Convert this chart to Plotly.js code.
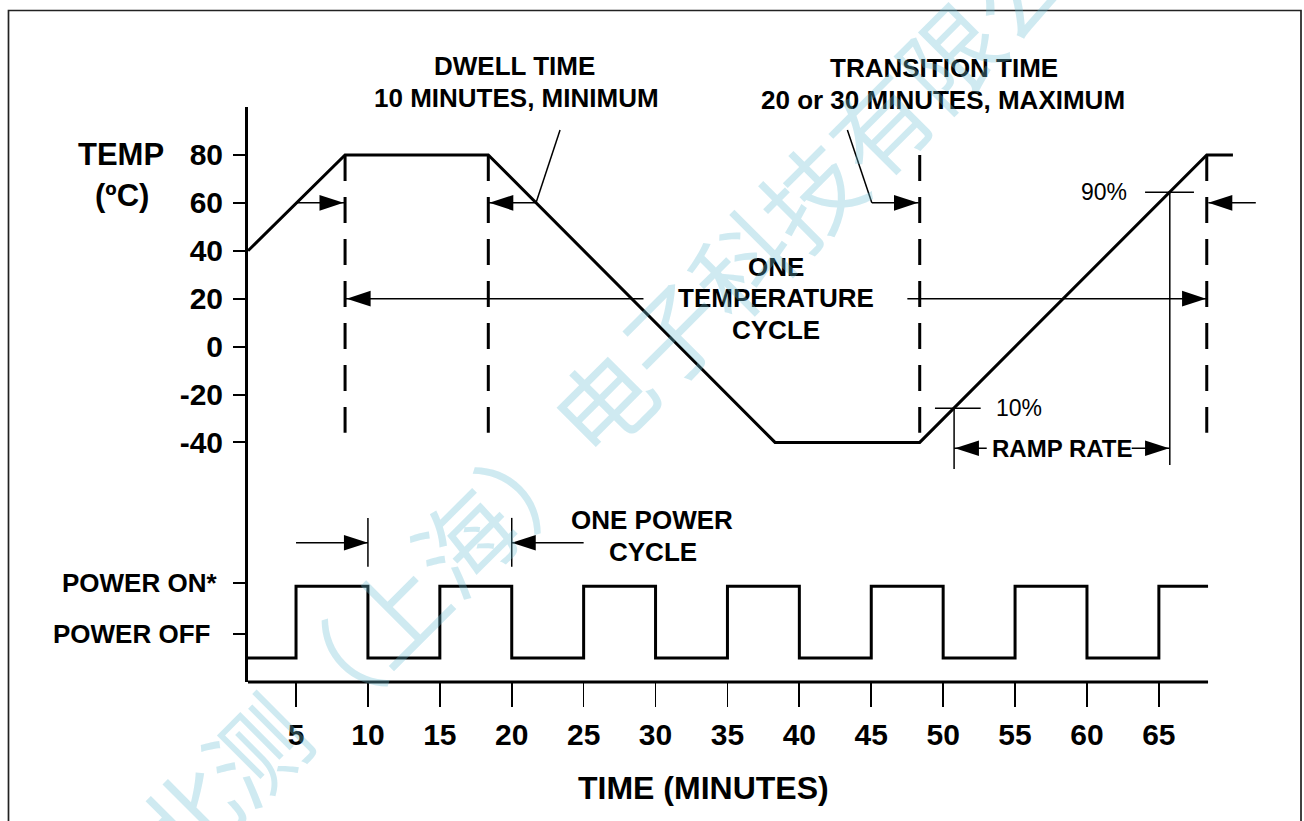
<!DOCTYPE html>
<html>
<head>
<meta charset="utf-8">
<script src="https://cdn.plot.ly/plotly-3.0.1.min.js"></script>
<style>html,body{margin:0;padding:0;background:#fff;}#chart{width:1304px;height:821px;}</style>
</head>
<body>
<div id="chart"></div>
<script>
// ---------- data (minutes, °C) ----------
const tempTime  = [1.66, 8.41, 18.37, 38.31, 48.37, 68.33, 70.15];
const tempValue = [40, 80, 80, -40, -40, 80, 80];

const powerTime  = [1.66, 5, 10, 15, 20, 25, 30, 35, 40, 45, 50, 55, 60, 65, 68.42];
const powerState = [0, 1, 0, 1, 0, 1, 0, 1, 0, 1, 0, 1, 0, 1, 1];
const powerOnLevel = -100, powerOffLevel = -130;

const tempTickVals  = [80, 60, 40, 20, 0, -20, -40];
const tempTickText  = ['80', '60', '40', '20', '0', '-20', '-40'];
const powerTickVals = [-98.8, -120];
const powerTickText = ['POWER ON*', 'POWER OFF'];
const timeTickVals  = [5, 10, 15, 20, 25, 30, 35, 40, 45, 50, 55, 60, 65];
const timeTickText  = ['5', '10', '15', '20', '25', '30', '35', '40', '45', '50', '55', '60', '65'];

const cycleEdges = [8.41, 18.37, 48.37, 68.33];   // dashed boundaries
const powerCycleEdges = [10, 20];
const ramp10 = {t: 50.76, v: -25.75};
const ramp90 = {t: 65.76, v: 64.4};

// ---------- helpers ----------
const FONT = 'Arial, "Liberation Sans", Helvetica, sans-serif';
const shapes = [];
const ann = [];
function seg(x0, y0, x1, y1, w, dash) {
  shapes.push({type: 'line', xref: 'x', yref: 'y', x0, y0, x1, y1,
    line: {color: '#000', width: w || 1.5, dash: dash || 'solid'}});
}
function head(x, y, dir) {
  const L = 24, H = 7.8;
  const p = dir === 'r' ? `M0,0L${-L},${H}L${-L},${-H}Z` : `M0,0L${L},${H}L${L},${-H}Z`;
  shapes.push({type: 'path', xref: 'x', yref: 'y', xsizemode: 'pixel', ysizemode: 'pixel',
    xanchor: x, yanchor: y, path: p, fillcolor: '#000', line: {width: 0}});
}
function txt(x, y, text, size, bold, extra) {
  ann.push(Object.assign({x, y, xref: 'x', yref: 'y', text, showarrow: false,
    xanchor: 'center', yanchor: 'middle',
    font: {family: FONT, size, color: '#000', weight: bold ? 'bold' : 'normal'}}, extra || {}));
}

// dashed cycle boundaries
cycleEdges.forEach(t => seg(t, 80, t, -36, 3, '26px,16px'));

// dwell arrows at 60 °C
seg(5.05, 60, cycleEdges[0], 60); head(8.3, 60, 'r');
seg(cycleEdges[1], 60, 21.69, 60); head(18.44, 60, 'l');
seg(23.36, 90.4, 21.69, 60);                     // DWELL pointer
// transition pointer
seg(43.34, 90.4, 45.04, 60); seg(45.04, 60, 48.3, 60); head(48.25, 60, 'r');
// right arrow
seg(68.44, 60, 71.74, 60); head(68.44, 60, 'l');
// one temperature cycle
seg(cycleEdges[0], 20, 29.16, 20); head(8.52, 20, 'l');
seg(47.51, 20, cycleEdges[3], 20); head(68.28, 20, 'r');
// 90 % and 10 % markers
seg(64.04, ramp90.v, 67.44, ramp90.v); seg(ramp90.t, ramp90.v, ramp90.t, -49.4);
seg(49.43, ramp10.v, 52.61, ramp10.v); seg(ramp10.t, ramp10.v, ramp10.t, -51.1);
// ramp rate arrows
seg(ramp10.t, -42.45, 53.03, -42.45); head(ramp10.t + 0.06, -42.45, 'l');
seg(63.11, -42.45, ramp90.t, -42.45); head(ramp90.t - 0.05, -42.45, 'r');
// one power cycle
powerCycleEdges.forEach(t => seg(t, -71.5, t, -91.9));
seg(5, -81.85, powerCycleEdges[0], -81.85); head(powerCycleEdges[0], -81.85, 'r');
seg(powerCycleEdges[1], -81.85, 25, -81.85); head(powerCycleEdges[1], -81.85, 'l');

// x axis line (ends at the last cycle boundary)
shapes.push({type: 'line', xref: 'x', yref: 'paper', x0: tempTime[0], x1: powerTime[powerTime.length - 1],
  y0: 0, y1: 0, line: {color: '#000', width: 3.2}});
// frame
shapes.push({type: 'rect', xref: 'paper', yref: 'paper', x0: -0.2355, x1: 1.0354, y0: -0.2574, y1: 1.1678,
  line: {color: '#222', width: 1.7}, fillcolor: 'rgba(0,0,0,0)'});

// texts
txt(20.2, 1.0713, 'DWELL TIME', 26, true, {yref: 'paper'});
txt(20.3, 1.0163, '10 MINUTES, MINIMUM', 26, true, {yref: 'paper'});
txt(50.06, 1.0685, 'TRANSITION TIME', 26, true, {yref: 'paper'});
txt(49.96, 1.0122, '20 or 30 MINUTES, MAXIMUM', 26, true, {yref: 'paper'});
txt(38.38, 33.3, 'ONE', 26, true);
txt(38.38, 20.1, 'TEMPERATURE', 26, true);
txt(38.35, 6.9, 'CYCLE', 26, true);
txt(61.15, ramp90.v, '90%', 23, false);
txt(55.24, ramp10.v + 0.1, '10%', 23, false);
txt(58.24, -42.45, 'RAMP RATE', 24, true);
txt(29.75, -72.4, 'ONE POWER', 26, true);
txt(29.8, -85.6, 'CYCLE', 26, true);
txt(-0.1249, 80.26, 'TEMP', 31, true, {xref: 'paper'});
txt(-0.1242, 63.0, '(ºC)', 31, true, {xref: 'paper'});
txt(-0.0285, powerTickVals[0], powerTickText[0], 26, true, {xref: 'paper', xanchor: 'right'});
txt(-0.0354, powerTickVals[1], powerTickText[1], 26, true, {xref: 'paper', xanchor: 'right'});
txt(33.34, -0.1843, 'TIME (MINUTES)', 32, true, {yref: 'paper'});

// watermark
ann.push({xref: 'paper', yref: 'paper', x: 0.3805, y: 0.5513, xanchor: 'center', yanchor: 'middle',
  text: '北测（上海）电子科技有限公司', showarrow: false, textangle: -45,
  font: {family: '"Noto Sans CJK SC", sans-serif', size: 98, color: 'rgba(110,190,212,0.33)'}});

const traces = [
  {x: tempTime, y: tempValue, mode: 'lines', line: {color: '#000', width: 3}, hoverinfo: 'skip'},
  {x: powerTime, y: powerState.map(s => s ? powerOnLevel : powerOffLevel), mode: 'lines',
   line: {color: '#000', width: 3, shape: 'hv'}, hoverinfo: 'skip'}
];

const layout = {
  width: 1304, height: 821,
  margin: {l: 248, r: 39, t: 107, b: 139},
  paper_bgcolor: '#fff', plot_bgcolor: '#fff',
  showlegend: false,
  xaxis: {range: [1.66, 72.38], showline: false, showgrid: false, zeroline: false,
    ticks: 'outside', ticklen: 24, tickwidth: 1.7, tickcolor: '#000',
    tickvals: timeTickVals, ticktext: timeTickText, ticklabelstandoff: 2,
    tickfont: {family: FONT, size: 30, color: '#000', weight: 'bold'}, fixedrange: true},
  yaxis: {range: [-140, 100], showline: true, linewidth: 3, linecolor: '#000',
    showgrid: false, zeroline: false, ticks: 'outside', ticklen: 12, tickwidth: 2, tickcolor: '#000',
    tickvals: tempTickVals.concat(powerTickVals), ticktext: tempTickText.concat(['', '']),
    ticklabelstandoff: 4,
    tickfont: {family: FONT, size: 30, color: '#000', weight: 'bold'}, fixedrange: true},
  shapes: shapes,
  annotations: ann
};

Plotly.newPlot('chart', traces, layout, {displayModeBar: false, staticPlot: true});
</script>
</body>
</html>
